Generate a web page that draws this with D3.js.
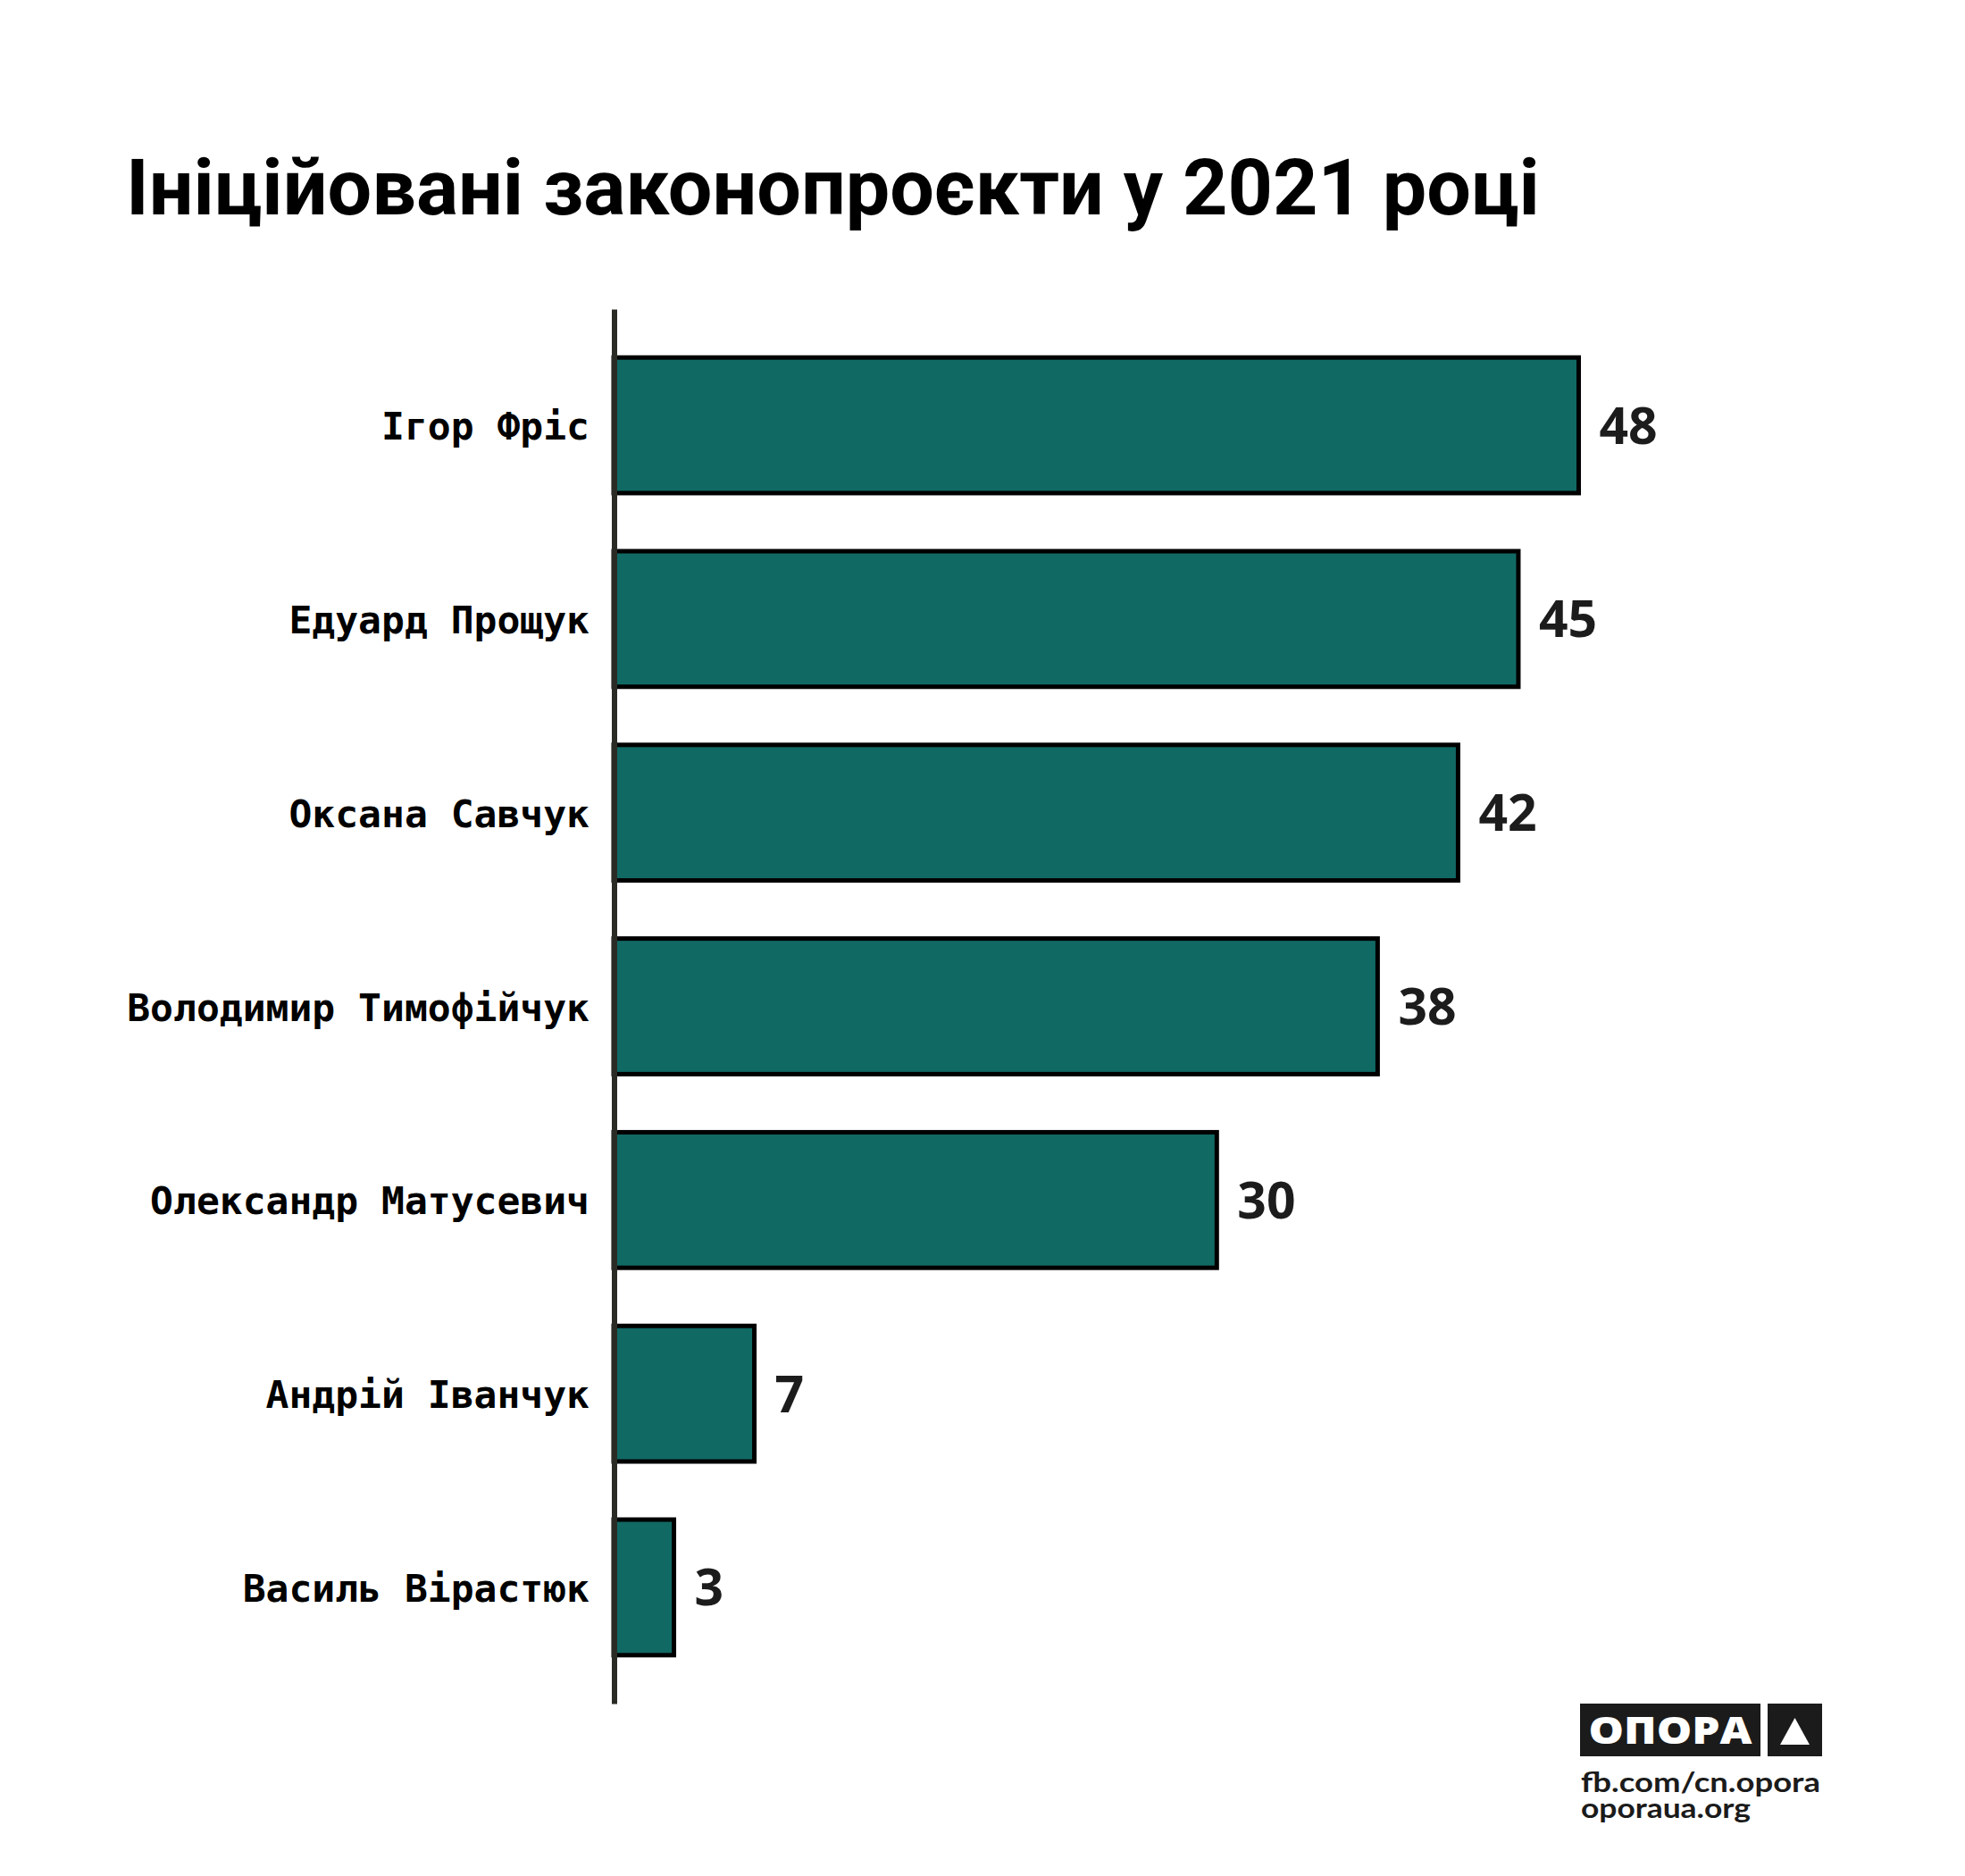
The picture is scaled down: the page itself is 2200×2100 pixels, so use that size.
<!DOCTYPE html>
<html>
<head>
<meta charset="utf-8">
<script src="https://cdn.jsdelivr.net/npm/d3@7"></script>
<style>
  body { margin: 0; background: #fff; }
</style>
</head>
<body>
<div></div>
<script>
const width = 2200;
const height = 2100;

// data
const names = ['Ігор Фріс', 'Едуард Прощук', 'Оксана Савчук', 'Володимир Тимофійчук',
  'Олександр Матусевич', 'Андрій Іванчук', 'Василь Вірастюк'];
const bills = [48, 45, 42, 38, 30, 7, 3];
const title = 'Ініційовані законопроєкти у 2021 році';
const footer = ['fb.com/cn.opora', 'oporaua.org'];
const footerWidths = [268, 190];

const rows = names.map((n, i) => ({ name: n, value: bills[i] }));

const svg = d3.select('div').append('svg').attr('width', width).attr('height', height);

const x = d3.scaleLinear().domain([0, 48]).range([687, 1767.5]);
const y = d3.scaleBand().domain(names).range([346, 1907]).paddingInner(0.3).paddingOuter(0.25);

svg.append('text')
  .attr('x', 141).attr('y', 240)
  .attr('font-family', 'Roboto').attr('font-weight', 700).attr('font-size', 88)
  .attr('fill', '#000')
  .text(title);

const g = svg.append('g');

g.selectAll('rect.bar').data(rows).enter().append('rect')
  .attr('class', 'bar')
  .attr('x', x(0))
  .attr('y', d => y(d.name))
  .attr('width', d => x(d.value) - x(0))
  .attr('height', y.bandwidth())
  .attr('fill', '#116964')
  .attr('stroke', '#000')
  .attr('stroke-width', 5);

g.selectAll('text.val').data(rows).enter().append('text')
  .attr('class', 'val')
  .attr('x', d => x(d.value) + 23)
  .attr('y', d => y(d.name) + y.bandwidth() / 2 + 20.5)
  .attr('font-family', 'Open Sans').attr('font-weight', 700).attr('font-size', 57)
  .attr('fill', '#1c1c1c')
  .text(d => d.value);

g.selectAll('text.name').data(rows).enter().append('text')
  .attr('class', 'name')
  .attr('x', 660)
  .attr('y', d => y(d.name) + y.bandwidth() / 2 + 16)
  .attr('text-anchor', 'end')
  .attr('font-family', 'DejaVu Sans Mono').attr('font-weight', 700).attr('font-size', 43)
  .attr('fill', '#000')
  .text(d => d.name);

// axis line, no ticks
const axis = d3.axisLeft(y).tickSize(0).tickFormat('');
const ax = svg.append('g').attr('transform', 'translate(' + 687.5 + ',0)').call(axis);
ax.select('.domain').attr('stroke', '#2b2b25').attr('stroke-width', 6);

// logo
const logo = svg.append('g');
logo.append('rect').attr('x', 1769).attr('y', 1907).attr('width', 202).attr('height', 59).attr('fill', '#1b1b1b');
logo.append('rect').attr('x', 1979).attr('y', 1907).attr('width', 61).attr('height', 59).attr('fill', '#1b1b1b');
logo.append('path').attr('d', 'M1993,1953 L2026,1953 L2009.5,1923 Z').attr('fill', '#fff');
logo.append('text')
  .attr('x', 1870).attr('y', 1952).attr('text-anchor', 'middle')
  .attr('font-family', 'Open Sans').attr('font-weight', 800).attr('font-size', 43)
  .attr('fill', '#fff').attr('textLength', 183).attr('lengthAdjust', 'spacingAndGlyphs')
  .text('ОПОРА');
logo.selectAll('text.foot').data(footer).enter().append('text')
  .attr('class', 'foot')
  .attr('x', 1770).attr('y', (d, i) => 2006 + i * 29)
  .attr('font-family', 'Lato').attr('font-weight', 700).attr('font-size', 30)
  .attr('textLength', (d, i) => footerWidths[i]).attr('lengthAdjust', 'spacingAndGlyphs')
  .attr('fill', '#1b1b1b')
  .text(d => d);
</script>
</body>
</html>
